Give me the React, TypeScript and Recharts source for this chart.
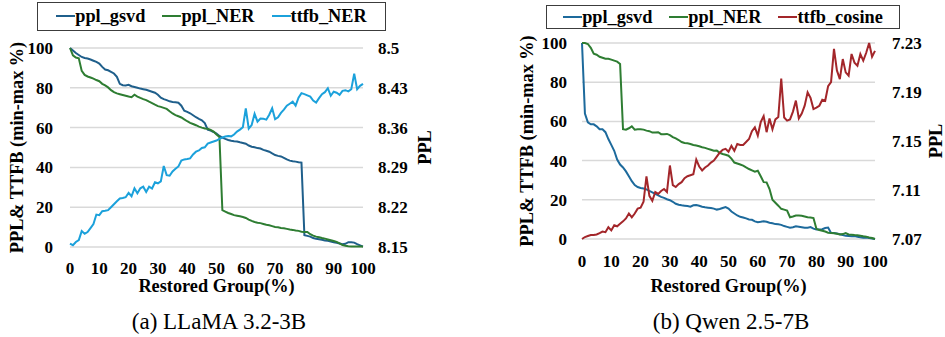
import React from 'react';
import { LineChart, Line, XAxis, YAxis, CartesianGrid } from 'recharts';

// restored group, % (x axis)
const groups = [
  0, 1, 2, 3, 4, 5, 6, 7, 8, 9,
  10, 11, 12, 13, 14, 15, 16, 17, 18, 19,
  20, 21, 22, 23, 24, 25, 26, 27, 28, 29,
  30, 31, 32, 33, 34, 35, 36, 37, 38, 39,
  40, 41, 42, 43, 44, 45, 46, 47, 48, 49,
  50, 51, 52, 53, 54, 55, 56, 57, 58, 59,
  60, 61, 62, 63, 64, 65, 66, 67, 68, 69,
  70, 71, 72, 73, 74, 75, 76, 77, 78, 79,
  80, 81, 82, 83, 84, 85, 86, 87, 88, 89,
  90, 91, 92, 93, 94, 95, 96, 97, 98, 99,
  100,
];

// (a) LLaMA 3.2-3B, min-max %
const llamaGsvd = [
  100, 98.8, 97.5, 96.5, 95.5, 95, 94.7, 94.2, 93.6, 93,
  92.2, 90.5, 89.2, 88.8, 88, 87.2, 85.5, 82, 81.3, 81.2,
  81.5, 80.8, 80.4, 80, 79.6, 79.3, 79, 78.5, 78, 77.5,
  76.5, 75, 74.3, 73.8, 73.2, 72.9, 72.7, 72.5, 71, 68.5,
  67.9, 67.2, 66.2, 65.2, 64.4, 63.7, 62.3, 59, 58.5, 57.8,
  57, 55.8, 55, 54.3, 53.8, 53.4, 53.1, 53, 52.6, 52.3,
  51.9, 51, 50.4, 50.1, 49.7, 49.5, 48.8, 48.4, 47.9, 47,
  46.2, 45.8, 45.5, 44.8, 44, 43.4, 43.1, 42.9, 42.6, 42.4,
  5.9, 5.6, 5.2, 4.5, 4.1, 3.9, 3.6, 3.3, 3.1, 2.7,
  2.4, 2.1, 1.8, 1.4, 1.6, 2.4, 2.4, 2.2, 1.4, 0.8,
  0.2,
];
const llamaNer = [
  100, 96.3, 95.2, 94.8, 88.5, 86.5, 85.7, 85.2, 84.6, 83.9,
  83.3, 82, 81.2, 80.2, 78.8, 77.8, 77.2, 76.8, 76.4, 76,
  75.6, 75.3, 76.5, 75.6, 74.9, 74.3, 73.8, 73, 72.3, 71.5,
  70.8, 70.4, 69.9, 69.4, 68.2, 67.1, 66.3, 65.7, 65.1, 64.1,
  63.2, 62.4, 61.8, 61.2, 60.5, 60, 59.6, 59.4, 58.9, 58,
  56.5, 55.3, 18.5, 17.8, 17.1, 16.6, 16, 15.7, 15.4, 15.1,
  14.6, 13.8, 13.1, 12.6, 12.2, 12, 11.6, 11.2, 10.9, 10.5,
  10.1, 9.9, 9.6, 9.4, 9.1, 8.8, 8.6, 8.3, 8.1, 7.7,
  7.6, 7.6, 6.4, 5.7, 5.2, 4.9, 4.5, 4.2, 3.8, 3.4,
  3, 2.6, 1.8, 1, 0.6, 0.4, 0.3, 0.3, 0.3, 0.3,
  0.3,
];
const llamaTtfb = [
  1.7, 0.9, 2.5, 3.5, 8, 6.7, 7.5, 9.5, 11.5, 16.3,
  16, 18, 18.2, 18.5, 20, 21.5, 23, 24.4, 24.6, 25,
  27.2, 25.5, 29.5, 27, 29.5, 30.3, 27.7, 30.3, 29.4, 32.5,
  32, 33, 40.7, 36.1, 35.8, 38, 39.3, 40.5, 43.4, 44,
  44.2, 44.5, 46.5, 47.9, 48.5, 49.8, 50.1, 52, 52.5, 53,
  53.5, 54.3, 55, 55.5, 55.8, 55.6, 56.5, 58, 59, 60.2,
  69.7, 59.5, 61.3, 66.9, 63, 64.5, 64.4, 64, 66.5, 69.7,
  64.2, 65.2, 67.4, 69, 71, 72, 73, 71, 75, 77.3,
  76.8, 76.2, 75.6, 73.6, 72.6, 74.8, 76.8, 77.8, 79.8, 76,
  78, 77.5, 76.5, 78.5, 78.8, 78.2, 79.3, 87.1, 79.3, 81,
  82,
];

// (b) Qwen 2.5-7B, min-max %
const qwenGsvd = [
  100, 64, 59.5, 58.5, 58.5, 57.5, 56, 56, 54.5, 51,
  48, 45, 40.5, 38, 36.5, 34.5, 32, 29.5, 27.5, 26.5,
  26, 25.8, 25.3, 24.5, 23.8, 23, 22.3, 21.5, 21, 20.3,
  19.8, 19, 18, 17.5, 17.2, 17, 16.8, 16.5, 17.2, 17.3,
  17, 16.5, 16.2, 16, 15.8, 15.5, 15, 15.3, 15.8, 16.3,
  15.5, 14, 13, 12, 11.3, 11, 10.5, 10, 9.8, 9,
  8.6, 8.8, 9.1, 8.8, 8.3, 8, 7.6, 7.5, 7.2, 6.6,
  6.2, 5.8, 6, 6.5, 6.3, 6, 5.7, 5.8, 6.1, 5.3,
  4.8, 4.8, 5, 5.6, 5.8, 3.1, 3.1, 2.8, 2.4, 2,
  1.6, 1.5, 1.4, 1.5, 1.2, 0.9, 0.6, 0.7, 0.5, 0.3,
  0,
];
const qwenNer = [
  100, 100, 99.5, 97.5, 94.5, 94, 93, 92.5, 92, 92,
  91.5, 91, 90.5, 89.3, 56, 55.8, 56.5, 57.5, 55.8, 56,
  56, 55.8, 55.3, 55, 54.3, 54.3, 54.5, 53.5, 53.5, 53.6,
  53, 52, 51.3, 50.5, 49.5, 49, 48.8, 48.5, 48, 47.7,
  47.3, 46.8, 46.5, 46, 45.5, 45, 45.1, 44, 43.4, 43,
  42.5, 41, 39, 38.5, 38, 37.4, 36.5, 35.7, 35, 34.3,
  34.8, 32, 29, 28.9, 25.5, 20, 18.5, 17, 15.4, 15,
  14.5, 11.1, 11.5, 12, 12, 11.9, 11.5, 11.1, 11, 10.7,
  5.2, 4.6, 4.2, 3.8, 3.2, 3, 2.9, 2.7, 2.3, 2.5,
  3, 2.3, 2.2, 2, 1.9, 1.7, 1.4, 1.2, 0.8, 0.5,
  0,
];
const qwenTtfb = [
  0, 1, 1.5, 2, 2, 2.3, 3, 3.8, 3.5, 6,
  4.4, 7, 6.5, 7.8, 9, 10.5, 13, 11, 13, 15.5,
  16, 19, 32, 22, 19.5, 24, 23, 24.5, 25.5, 24,
  37.5, 27.5, 26.5, 28, 29, 31, 32, 32.5, 33, 40.5,
  37, 35, 36.5, 37.5, 39, 40, 42, 44, 45.5, 46,
  44.5, 47.5, 45, 48.5, 48, 48, 49.5, 51, 55, 57,
  52.8, 59.6, 62.7, 54.5, 61.5, 56, 61, 62.2, 81.8, 62,
  60.4, 61, 65, 70.6, 61.5, 64, 68, 74.8, 72, 66.3,
  67, 68, 71, 70.5, 78, 80, 97, 86, 81.6, 91.8,
  85, 83.3, 94.4, 90, 88.4, 94.4, 91, 95, 100, 93,
  96,
];

const groupTicks = [0, 10, 20, 30, 40, 50, 60, 70, 80, 90, 100];
const pctTicks = [0, 20, 40, 60, 80, 100];
const llamaPplTicks = [8.15, 8.22, 8.29, 8.36, 8.43, 8.5];
const qwenPplTicks = [7.07, 7.11, 7.15, 7.19, 7.23];

const llamaNames = ['ppl_gsvd', 'ppl_NER', 'ttfb_NER'];
const qwenNames = ['ppl_gsvd', 'ppl_NER', 'ttfb_cosine'];

const FONT = "'Times New Roman', Times, 'Liberation Serif', serif";
const tickStyle = { fill: '#000', fontSize: 17, fontWeight: 700, fontFamily: FONT };
const labelStyle = { fill: '#000', fontSize: 18.3, fontWeight: 700, fontFamily: FONT, textAnchor: 'middle' as const };

const toRows = (a: number[], b: number[], c: number[]) =>
  groups.map((g, i) => ({ g, s0: a[i], s1: b[i], s2: c[i] }));

interface PanelProps {
  left: number;
  width: number;
  rows: { g: number; s0: number; s1: number; s2: number }[];
  names: string[];
  colors: string[];
  pplTicks: number[];
  margin: { top: number; right: number; bottom: number; left: number };
  leftWidth: number;
  leftTickMargin: number;
  rightTickMargin: number;
  xTickMargin: number;
  yLabelOffset: number;
  pplLabelOffset: number;
  xLabelOffset: number;
  legend: { left: number; top: number; width: number; height: number };
  caption: string;
  captionCenter: number;
}

const Panel: React.FC<PanelProps> = (p) => (
  <div style={{ position: 'absolute', left: p.left, top: 0, width: p.width, height: 337 }}>
    <LineChart width={p.width} height={337} data={p.rows} margin={p.margin} style={{ fontFamily: FONT }}>
      <CartesianGrid yAxisId="pct" vertical={false} stroke="#d9d9d9" strokeWidth={1.5} />
      <XAxis
        dataKey="g"
        type="number"
        domain={[0, 100]}
        ticks={groupTicks}
        interval={0}
        axisLine={false}
        tickLine={false}
        tickMargin={p.xTickMargin}
        height={30}
        tick={tickStyle}
        label={{ value: 'Restored Group(%)', position: 'bottom', offset: p.xLabelOffset, style: labelStyle }}
      />
      <YAxis
        yAxisId="pct"
        domain={[0, 100]}
        ticks={pctTicks}
        interval={0}
        width={p.leftWidth}
        axisLine={false}
        tickLine={false}
        tickMargin={p.leftTickMargin}
        tick={tickStyle}
        label={{ value: 'PPL& TTFB (min-max %)', angle: -90, position: 'left', offset: p.yLabelOffset, style: labelStyle }}
      />
      <YAxis
        yAxisId="ppl"
        orientation="right"
        type="number"
        domain={[p.pplTicks[0], p.pplTicks[p.pplTicks.length - 1]]}
        allowDataOverflow
        ticks={p.pplTicks}
        interval={0}
        width={50}
        axisLine={false}
        tickLine={false}
        tickMargin={p.rightTickMargin}
        tick={tickStyle}
        label={{ value: 'PPL', angle: -90, position: 'right', offset: p.pplLabelOffset, style: labelStyle }}
      />
      {['s0', 's1', 's2'].map((k, i) => (
        <Line
          key={k}
          yAxisId="pct"
          type="linear"
          dataKey={k}
          name={p.names[i]}
          stroke={p.colors[i]}
          strokeWidth={2}
          dot={false}
          isAnimationActive={false}
        />
      ))}
    </LineChart>
    <div
      style={{
        position: 'absolute',
        boxSizing: 'border-box',
        border: '1.3px solid #3c3c3c',
        display: 'flex',
        alignItems: 'center',
        justifyContent: 'center',
        gap: 17,
        ...p.legend,
      }}
    >
      {p.names.map((n, i) => (
        <div key={n} style={{ display: 'flex', alignItems: 'center' }}>
          <span style={{ display: 'inline-block', width: 19, height: 2, background: p.colors[i] }} />
          <span style={{ fontSize: 18.3, fontWeight: 700, lineHeight: 1 }}>{n}</span>
        </div>
      ))}
    </div>
    <div
      style={{
        position: 'absolute',
        left: p.captionCenter - 150,
        width: 300,
        top: 310,
        textAlign: 'center',
        fontSize: 23,
        lineHeight: 1,
      }}
    >
      {p.caption}
    </div>
  </div>
);

export default function App() {
  return (
    <div
      style={{
        position: 'fixed',
        left: 0,
        top: 0,
        width: 945,
        height: 337,
        background: '#fff',
        fontFamily: FONT,
        color: '#000',
      }}
    >
      <Panel
        left={0}
        width={470}
        rows={toRows(llamaGsvd, llamaNer, llamaTtfb)}
        names={llamaNames}
        colors={['#1f5f8b', '#2e7d32', '#1ba1db']}
        pplTicks={llamaPplTicks}
        margin={{ top: 48, right: 57, bottom: 60, left: 30 }}
        leftWidth={40}
        leftTickMargin={11}
        rightTickMargin={9}
        xTickMargin={9}
        yLabelOffset={13}
        pplLabelOffset={12}
        xLabelOffset={2}
        legend={{ left: 37, top: 2, width: 349, height: 29 }}
        caption="(a) LLaMA 3.2-3B"
        captionCenter={219}
      />
      <Panel
        left={470}
        width={475}
        rows={toRows(qwenGsvd, qwenNer, qwenTtfb)}
        names={qwenNames}
        colors={['#1d6a9c', '#2e7d32', '#a3262a']}
        pplTicks={qwenPplTicks}
        margin={{ top: 43, right: 20, bottom: 68, left: 62 }}
        leftWidth={50}
        leftTickMargin={9}
        rightTickMargin={11}
        xTickMargin={10}
        yLabelOffset={5}
        pplLabelOffset={11}
        xLabelOffset={10}
        legend={{ left: 76, top: 5, width: 354, height: 24 }}
        caption="(b) Qwen 2.5-7B"
        captionCenter={261}
      />
    </div>
  );
}
